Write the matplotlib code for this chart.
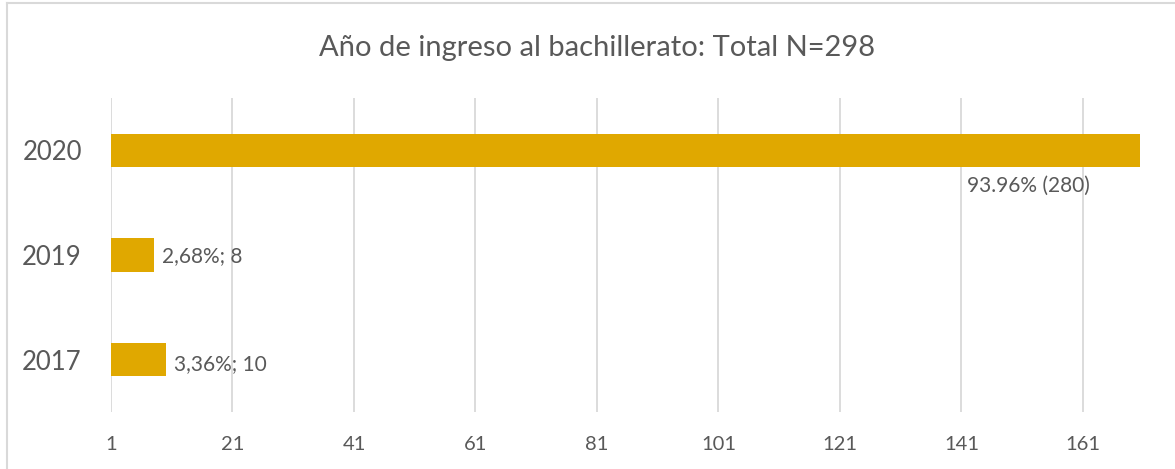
import matplotlib
matplotlib.use('Agg')
import matplotlib.pyplot as plt
from matplotlib.lines import Line2D

# --- data ---
years = ['2017', '2019', '2020']
counts = [10, 8, 280]
labels = ['3,36%; 10', '2,68%; 8', '93.96% (280)']
ticks = [1, 21, 41, 61, 81, 101, 121, 141, 161]
title = 'Año de ingreso al bachillerato: Total N=298'

BAR_COLOR = '#E0A800'
TEXT_COLOR = '#595959'
GRID_COLOR = '#D9D9D9'
AXIS_MIN = 1
AXIS_MAX = 170.4

plt.rcParams['font.family'] = ['Lato', 'DejaVu Sans']

fig = plt.figure(figsize=(11.75, 4.69), dpi=100)
# plot area in pixels: left 111, right 1140, top 98, bottom 412
ax = fig.add_axes([111 / 1175, 1 - 412 / 469, (1140 - 111) / 1175, (412 - 98) / 469])

ypos = list(range(len(years)))
widths = [c - AXIS_MIN for c in counts]
bars = ax.barh(ypos, widths, left=AXIS_MIN, height=0.32, color=BAR_COLOR, zorder=2)

ax.set_xlim(AXIS_MIN, AXIS_MAX)
ax.set_ylim(-0.5, len(years) - 0.5)
ax.set_xticks(ticks)
ax.set_xticklabels([str(t) for t in ticks], fontsize=14.5, color=TEXT_COLOR)
ax.set_yticks(ypos)
ax.set_yticklabels(years, fontsize=18.5, color=TEXT_COLOR)
ax.tick_params(axis='x', length=0, pad=17)
ax.tick_params(axis='y', length=0, pad=21)
ax.xaxis.grid(True, color=GRID_COLOR, linewidth=1.3, zorder=0)
ax.yaxis.grid(False)
for s in ax.spines.values():
    s.set_visible(False)

# data labels
for i, (c, lab) in enumerate(zip(counts, labels)):
    if c > AXIS_MAX:
        ax.annotate(lab, xy=(AXIS_MAX, i - 0.16), xytext=(-36, -6),
                    textcoords='offset points', ha='right', va='top',
                    fontsize=15, color=TEXT_COLOR, annotation_clip=False)
    else:
        ax.annotate(lab, xy=(c, i), xytext=(6, -3 if i == 0 else -1),
                    textcoords='offset points', ha='left', va='center',
                    fontsize=15, color=TEXT_COLOR)

fig.text(597 / 1175, 1 - 48 / 469, title, ha='center', va='center',
         fontsize=21, color=TEXT_COLOR)

# chart border (left and top edges visible)
fig.add_artist(Line2D([7 / 1175, 7 / 1175], [0, 1 - 3 / 469], color=GRID_COLOR, lw=1.5))
fig.add_artist(Line2D([7 / 1175, 1], [1 - 3 / 469, 1 - 3 / 469], color=GRID_COLOR, lw=1.5))

fig.savefig('out.png', dpi=100)
